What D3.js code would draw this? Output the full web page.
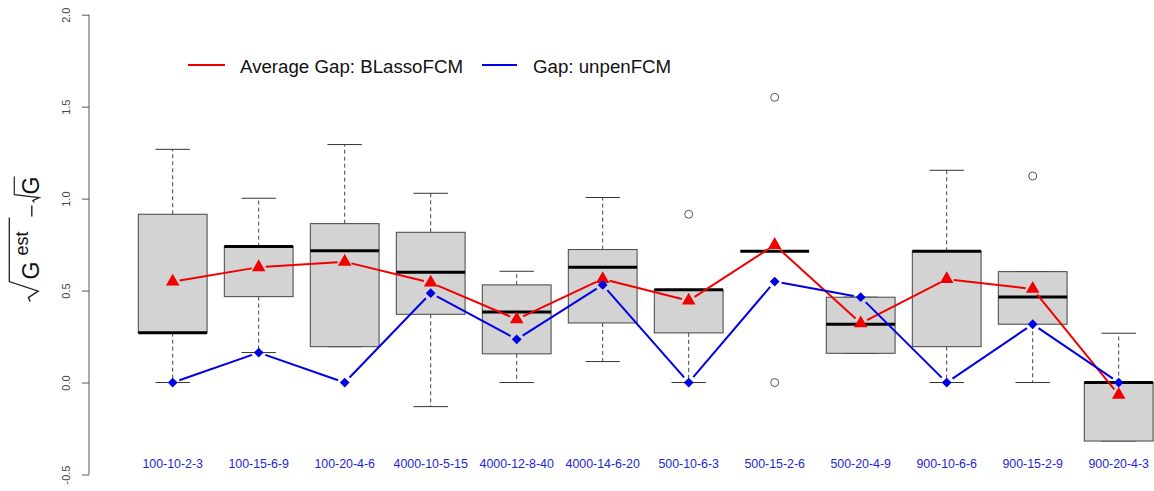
<!DOCTYPE html>
<html>
<head>
<meta charset="utf-8">
<script src="https://cdn.jsdelivr.net/npm/d3@7"></script>
<style>
  html, body { margin: 0; padding: 0; background: #fff; }
  svg { display: block; font-family: "Liberation Sans", Arial, sans-serif; }
</style>
</head>
<body>
<svg id="chart" width="1154" height="491"></svg>
<script>
// Simulation settings (n-p-q-s)
const categories = ["100-10-2-3", "100-15-6-9", "100-20-4-6", "4000-10-5-15", "4000-12-8-40", "4000-14-6-20",
                    "500-10-6-3", "500-15-2-6", "500-20-4-9", "900-10-6-6", "900-15-2-9", "900-20-4-3"];

// Box-plot summaries of sqrt(G_est) - sqrt(G)
const whiskerLow  = [0.000, 0.163, 0.195, -0.131, 0.000, 0.114, 0.000, 0.714, 0.159, 0.000, 0.000, -0.318];
const q1          = [0.271, 0.467, 0.195, 0.371, 0.156, 0.324, 0.270, 0.714, 0.159, 0.195, 0.317, -0.318];
const medians     = [0.271, 0.739, 0.716, 0.600, 0.384, 0.627, 0.504, 0.714, 0.317, 0.714, 0.465, 0.000];
const q3          = [0.915, 0.739, 0.864, 0.817, 0.531, 0.723, 0.504, 0.714, 0.464, 0.714, 0.603, 0.000];
const whiskerHigh = [1.268, 1.002, 1.294, 1.029, 0.605, 1.006, 0.504, 0.714, 0.464, 1.154, 0.603, 0.268];
const outliers    = [[], [], [], [], [], [], [0.915], [1.551, 0.000], [], [], [1.123], []];

// Overlaid series
const avgGapBLasso = [0.549, 0.627, 0.657, 0.543, 0.344, 0.563, 0.445, 0.748, 0.322, 0.562, 0.509, -0.067];
const gapUnpen     = [0.000, 0.163, 0.000, 0.486, 0.235, 0.531, 0.000, 0.549, 0.464, 0.000, 0.317, 0.000];

const yTicks = [-0.5, 0.0, 0.5, 1.0, 1.5, 2.0];
const legendLabels = ["Average Gap: BLassoFCM", "Gap: unpenFCM"];

const svg = d3.select("#chart");

const x = d3.scaleBand().domain(categories).range([129.7, 1161.7])
  .paddingInner(0.2).paddingOuter(0.1);
const y = d3.scaleLinear().domain([-0.5, 2.0]).range([474.5, 14.7]);
const bw = x.bandwidth();
const cx = c => x(c) + bw / 2;

// ---- y axis ----
const yAxis = svg.append("g")
  .attr("transform", "translate(89,0)")
  .call(d3.axisLeft(y).tickValues(yTicks).tickSize(7).tickSizeOuter(0)
        .tickFormat(v => v.toFixed(1)));
yAxis.select(".domain").attr("stroke", "#555").attr("stroke-width", 1)
  .attr("d", `M0,${y(-0.5)}V${y(2.0)}`);
yAxis.selectAll(".tick line").attr("stroke", "#555");
yAxis.selectAll(".tick text")
  .attr("x", null).attr("dy", null)
  .attr("transform", "translate(-19,0) rotate(-90)")
  .attr("text-anchor", "middle")
  .attr("fill", "#444")
  .style("font-size", "11px")
  .style("font-family", "'Liberation Sans', Arial, sans-serif");

// ---- y axis title: sqrt(G^est) - sqrt(G) ----
const title = svg.append("g").attr("transform", "translate(39.3,244.6) rotate(-90)");
const tStroke = "#222";
// large radical over G^est
title.append("path")
  .attr("d", "M-57,-9 L-53,-11 L-46.5,-1 L-37,-30 L27,-30")
  .attr("fill", "none").attr("stroke", tStroke).attr("stroke-width", 1.3);
title.append("text").attr("x", -35).attr("y", 0)
  .style("font-size", "23px").attr("fill", "#111").text("G");
title.append("text").attr("x", -11).attr("y", -11)
  .style("font-size", "18px").attr("fill", "#111").text("est");
// minus sign
title.append("path").attr("d", "M28,-7.5 L39,-7.5")
  .attr("stroke", tStroke).attr("stroke-width", 1.4);
// small radical over G
title.append("path")
  .attr("d", "M42,-5 L44,-6.5 L47,0 L50,-25 L68,-25")
  .attr("fill", "none").attr("stroke", tStroke).attr("stroke-width", 1.2);
title.append("text").attr("x", 50).attr("y", 0)
  .style("font-size", "23px").attr("fill", "#111").text("G");

// ---- x labels ----
svg.append("g").selectAll("text").data(categories).join("text")
  .attr("x", d => cx(d)).attr("y", 468)
  .attr("text-anchor", "middle")
  .attr("fill", "#2424d8")
  .style("font-size", "12.4px")
  .text(d => d);

// ---- box plots ----
const boxes = svg.append("g").selectAll("g").data(categories).join("g");
const dash = "4,3";
// whiskers
boxes.append("line")
  .attr("x1", d => cx(d)).attr("x2", d => cx(d))
  .attr("y1", (d, i) => y(q3[i])).attr("y2", (d, i) => y(whiskerHigh[i]))
  .attr("stroke", "#444").attr("stroke-dasharray", dash);
boxes.append("line")
  .attr("x1", d => cx(d)).attr("x2", d => cx(d))
  .attr("y1", (d, i) => y(q1[i])).attr("y2", (d, i) => y(whiskerLow[i]))
  .attr("stroke", "#444").attr("stroke-dasharray", dash);
// staples
boxes.append("line")
  .attr("x1", d => cx(d) - bw / 4).attr("x2", d => cx(d) + bw / 4)
  .attr("y1", (d, i) => y(whiskerHigh[i])).attr("y2", (d, i) => y(whiskerHigh[i]))
  .attr("stroke", "#333").attr("stroke-width", 1);
boxes.append("line")
  .attr("x1", d => cx(d) - bw / 4).attr("x2", d => cx(d) + bw / 4)
  .attr("y1", (d, i) => y(whiskerLow[i])).attr("y2", (d, i) => y(whiskerLow[i]))
  .attr("stroke", "#333").attr("stroke-width", 1);
// boxes
boxes.append("rect")
  .attr("x", d => x(d)).attr("width", bw)
  .attr("y", (d, i) => y(q3[i]))
  .attr("height", (d, i) => y(q1[i]) - y(q3[i]))
  .attr("fill", "#d3d3d3").attr("stroke", "#444").attr("stroke-width", 1);
// medians
boxes.append("line")
  .attr("x1", d => x(d)).attr("x2", d => x(d) + bw)
  .attr("y1", (d, i) => y(medians[i])).attr("y2", (d, i) => y(medians[i]))
  .attr("stroke", "#000").attr("stroke-width", 3);
// outliers
boxes.each(function(d, i) {
  d3.select(this).selectAll("circle").data(outliers[i]).join("circle")
    .attr("cx", cx(d)).attr("cy", v => y(v)).attr("r", 4)
    .attr("fill", "none").attr("stroke", "#555").attr("stroke-width", 1);
});

// ---- overlaid lines with gaps at points ----
function gappedSegments(values, gap) {
  const pts = categories.map((c, i) => [cx(c), y(values[i])]);
  const segs = [];
  for (let i = 0; i < pts.length - 1; i++) {
    const [x1, y1] = pts[i], [x2, y2] = pts[i + 1];
    const len = Math.hypot(x2 - x1, y2 - y1);
    if (len <= 2 * gap) continue;
    const ux = (x2 - x1) / len, uy = (y2 - y1) / len;
    segs.push([x1 + ux * gap, y1 + uy * gap, x2 - ux * gap, y2 - uy * gap]);
  }
  return segs;
}

const red = "#f00000", blue = "#0000e6";

svg.append("g").selectAll("line").data(gappedSegments(avgGapBLasso, 7)).join("line")
  .attr("x1", s => s[0]).attr("y1", s => s[1]).attr("x2", s => s[2]).attr("y2", s => s[3])
  .attr("stroke", red).attr("stroke-width", 2);
svg.append("g").selectAll("line").data(gappedSegments(gapUnpen, 7)).join("line")
  .attr("x1", s => s[0]).attr("y1", s => s[1]).attr("x2", s => s[2]).attr("y2", s => s[3])
  .attr("stroke", blue).attr("stroke-width", 2);

svg.append("g").selectAll("path").data(categories).join("path")
  .attr("transform", (c, i) => `translate(${cx(c)},${y(avgGapBLasso[i])})`)
  .attr("d", d3.symbol(d3.symbolTriangle, 80))
  .attr("fill", red);
svg.append("g").selectAll("path").data(categories).join("path")
  .attr("transform", (c, i) => `translate(${cx(c)},${y(gapUnpen[i])}) rotate(45)`)
  .attr("d", d3.symbol(d3.symbolSquare, 48))
  .attr("fill", blue);

// ---- legend ----
const legend = svg.append("g");
const legendItems = [
  { label: legendLabels[0], color: red, x0: 188, x1: 225, tx: 240 },
  { label: legendLabels[1], color: blue, x0: 482, x1: 517, tx: 533 }
];
legend.selectAll("line").data(legendItems).join("line")
  .attr("x1", d => d.x0).attr("x2", d => d.x1).attr("y1", 65).attr("y2", 65)
  .attr("stroke", d => d.color).attr("stroke-width", 2);
legend.selectAll("text").data(legendItems).join("text")
  .attr("x", d => d.tx).attr("y", 73)
  .attr("fill", "#111")
  .style("font-size", "18.7px")
  .text(d => d.label);
</script>
</body>
</html>
